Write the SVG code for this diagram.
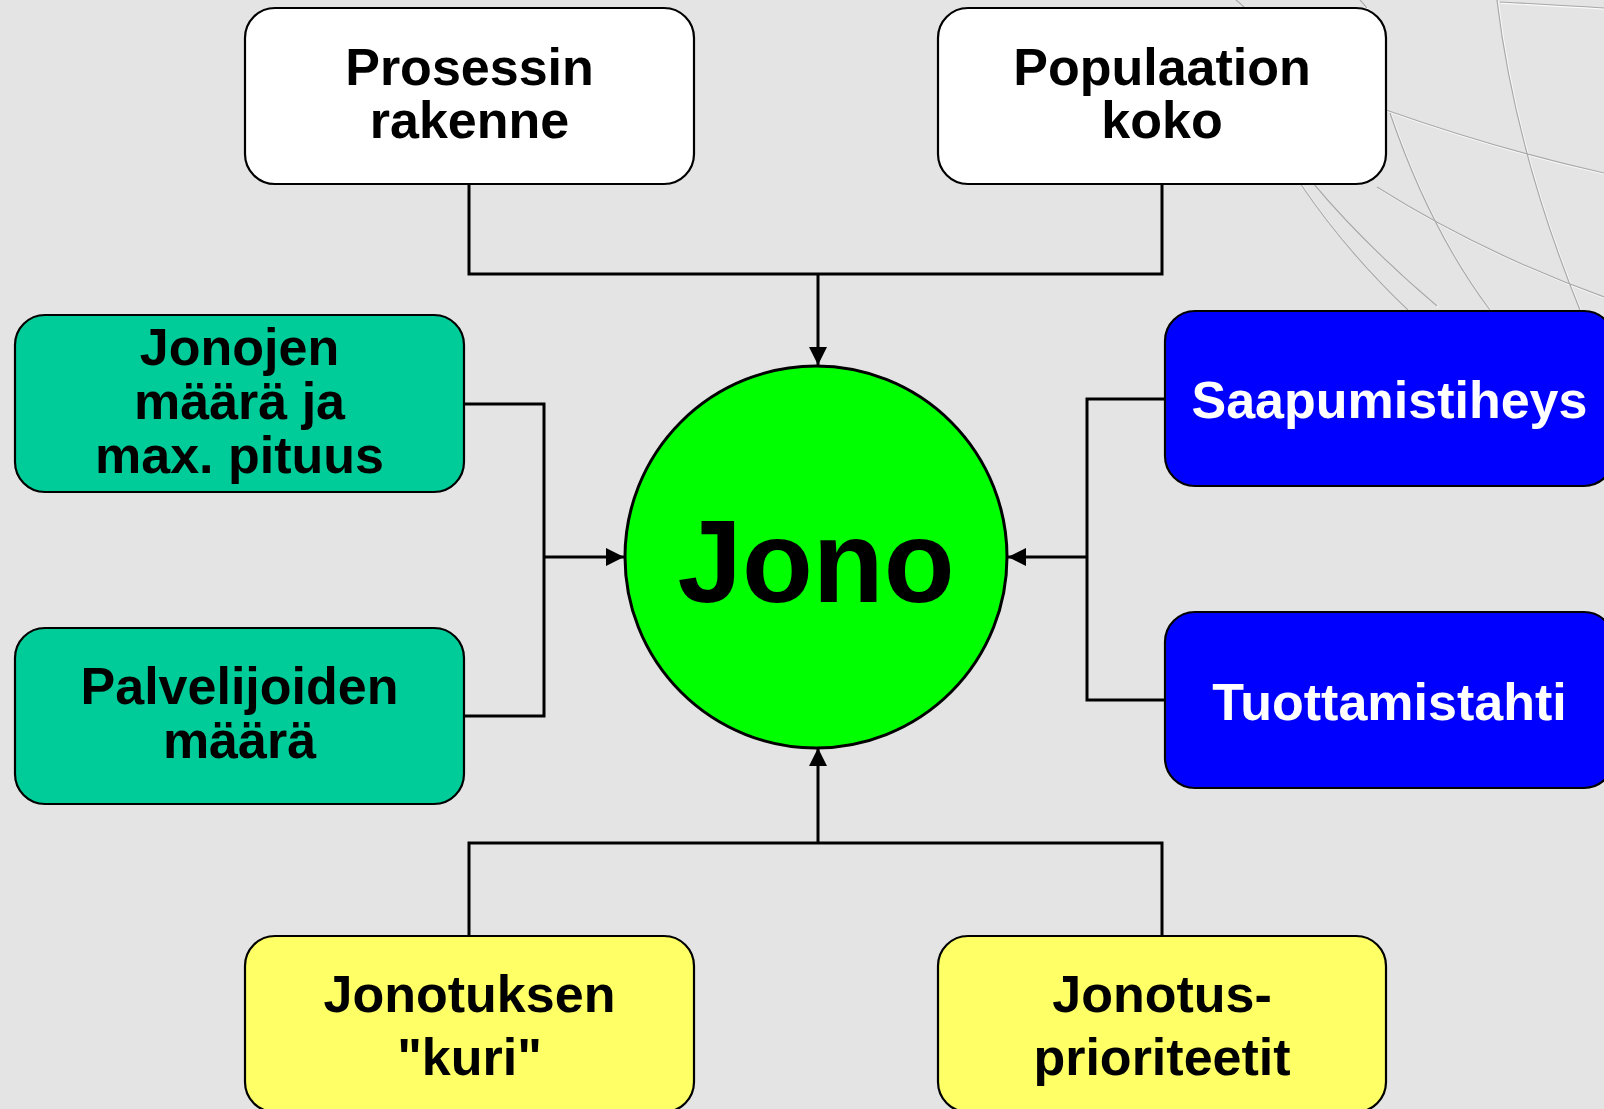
<svg xmlns="http://www.w3.org/2000/svg" width="1604" height="1109" viewBox="0 0 1604 1109">
  <style>
    .box { stroke: #000; stroke-width: 2.2; }
    .white { fill: #ffffff; }
    .teal { fill: #00cc99; }
    .blue { fill: #0000ff; }
    .yellow { fill: #ffff66; }
    .lbl { font-family: "Liberation Sans", Arial, sans-serif; font-weight: bold; font-size: 52px; text-anchor: middle; fill: #000; }
    .lbl.inv { fill: #ffffff; }
    .wire { fill: none; stroke: #000; stroke-width: 3; }
    .globe-hi { fill: none; stroke: #fafafa; stroke-width: 1.6; }
    .globe-lo { fill: none; stroke: #a8a8a8; stroke-width: 1.2; }
  </style>
  <defs>
    <marker id="head" markerUnits="userSpaceOnUse" markerWidth="18" markerHeight="18" viewBox="0 0 16 16" refX="16" refY="8" orient="auto">
      <path d="M0 0 L16 8 L0 16 Z" fill="#000"/>
    </marker>
    <!-- faint globe wireframe in the corner -->
    <g id="globe-lines">
      <path d="M1300 183 Q1345 250 1408 310"/>
      <path d="M1313 183 Q1365 245 1437 306"/>
      <path d="M1386 110 Q1500 150 1604 173"/>
      <path d="M1377 187 Q1480 252 1604 297"/>
      <path d="M1497 0 Q1515 150 1580 310"/>
      <path d="M1390 113 Q1430 230 1490 310"/>
      <path d="M1500 2 Q1560 5 1604 8"/>
      <path d="M1236 0 Q1241 4 1246 9"/>
      <path d="M1360 0 Q1364 4 1367 8"/>
    </g>
  </defs>

  <rect x="0" y="0" width="1604" height="1109" fill="#e4e4e4"/>

  <g id="backdrop">
    <use href="#globe-lines" class="globe-hi" transform="translate(1 1)"/>
    <use href="#globe-lines" class="globe-lo"/>
  </g>

  <g id="connectors">
    <path class="wire" d="M469 184 V274 H1162 V184"/>
    <path class="wire" d="M818 274 V365" marker-end="url(#head)"/>
    <path class="wire" d="M464 404 H544 V716 H464"/>
    <path class="wire" d="M544 557 H624" marker-end="url(#head)"/>
    <path class="wire" d="M1165 399 H1087 V700 H1165"/>
    <path class="wire" d="M1087 557 H1008" marker-end="url(#head)"/>
    <path class="wire" d="M469 936 V843 H1162 V936"/>
    <path class="wire" d="M818 843 V748" marker-end="url(#head)"/>
  </g>

  <g id="node-jono">
    <circle cx="816" cy="557" r="191" fill="#00ff00" stroke="#000" stroke-width="3"/>
    <text class="lbl" x="816" y="602" style="font-size:116px">Jono</text>
  </g>

  <g id="node-prosessin-rakenne">
    <rect class="box white" x="245" y="8" width="449" height="176" rx="30"/>
    <text class="lbl" x="469.5" y="85">Prosessin</text>
    <text class="lbl" x="469.5" y="138">rakenne</text>
  </g>

  <g id="node-populaation-koko">
    <rect class="box white" x="938" y="8" width="448" height="176" rx="30"/>
    <text class="lbl" x="1162" y="85">Populaation</text>
    <text class="lbl" x="1162" y="138">koko</text>
  </g>

  <g id="node-jonojen-maara">
    <rect class="box teal" x="15" y="315" width="449" height="177" rx="30"/>
    <text class="lbl" x="239.5" y="365">Jonojen</text>
    <text class="lbl" x="239.5" y="419">määrä ja</text>
    <text class="lbl" x="239.5" y="473">max. pituus</text>
  </g>

  <g id="node-palvelijoiden-maara">
    <rect class="box teal" x="15" y="628" width="449" height="176" rx="30"/>
    <text class="lbl" x="239.5" y="704">Palvelijoiden</text>
    <text class="lbl" x="239.5" y="758">määrä</text>
  </g>

  <g id="node-saapumistiheys">
    <rect class="box blue" x="1165" y="311" width="449" height="175" rx="30"/>
    <text class="lbl inv" x="1389.5" y="418">Saapumistiheys</text>
  </g>

  <g id="node-tuottamistahti">
    <rect class="box blue" x="1165" y="612" width="449" height="176" rx="30"/>
    <text class="lbl inv" x="1389.5" y="720">Tuottamistahti</text>
  </g>

  <g id="node-jonotuksen-kuri">
    <rect class="box yellow" x="245" y="936" width="449" height="176" rx="30"/>
    <text class="lbl" x="469.5" y="1012">Jonotuksen</text>
    <text class="lbl" x="469.5" y="1075">"kuri"</text>
  </g>

  <g id="node-jonotusprioriteetit">
    <rect class="box yellow" x="938" y="936" width="448" height="176" rx="30"/>
    <text class="lbl" x="1162" y="1012">Jonotus-</text>
    <text class="lbl" x="1162" y="1075">prioriteetit</text>
  </g>
</svg>
